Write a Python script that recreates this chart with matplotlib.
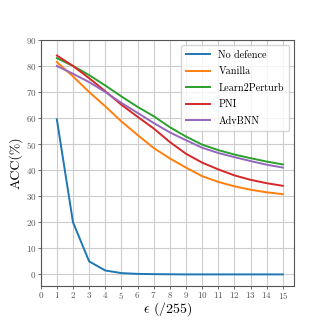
import numpy as np
import matplotlib
matplotlib.use("Agg")
import matplotlib.pyplot as plt

plt.rcParams['font.family'] = 'serif'
plt.rcParams['font.serif'] = ['cmr10']
plt.rcParams['mathtext.fontset'] = 'cm'
plt.rcParams['axes.formatter.use_mathtext'] = True

eps = np.arange(1, 16)

no_defence = [59.5, 20, 5, 1.5, 0.5, 0.2, 0.1, 0.05, 0, 0, 0, 0, 0, 0, 0]
vanilla = [81.5, 76, 70, 64.5, 58.7, 53.5, 48.5, 44.5, 41.0, 37.7, 35.5, 33.8, 32.5, 31.5, 30.8]
learn2perturb = [83, 80, 76.5, 72.5, 68.3, 64.3, 60.7, 56.5, 52.9, 49.8, 47.7, 46.0, 44.6, 43.3, 42.2]
pni = [84, 80, 75.3, 70.3, 65.1, 60.5, 56.0, 50.8, 46.3, 42.9, 40.3, 38.0, 36.3, 35.0, 34.0]
advbnn = [80, 77, 73.8, 70.0, 65.8, 62.0, 58.1, 54.5, 51.5, 48.6, 46.6, 45.0, 43.5, 42.1, 41.0]

series = [
    ("No defence", no_defence, "#1f77b4"),
    ("Vanilla", vanilla, "#ff7f0e"),
    ("Learn2Perturb", learn2perturb, "#2ca02c"),
    ("PNI", pni, "#d62728"),
    ("AdvBNN", advbnn, "#9467bd"),
]

fig = plt.figure(figsize=(3.27, 3.27), dpi=100)
ax = fig.add_axes([0.1245, 0.125, 0.775, 0.753])

for name, vals, col in series:
    ax.plot(eps, vals, color=col, lw=1.4, label=name)

ax.set_xlim(0, 15.7)
ax.set_ylim(-4.5, 90)
ax.set_xticks(np.arange(0, 16))
ax.set_yticks(np.arange(0, 91, 10))
ax.grid(True, color="#cccccc", lw=0.8)
ax.set_axisbelow(True)
for sp in ax.spines.values():
    sp.set_color("#555555")
ax.tick_params(labelsize=6.5, colors="#555555", length=2, width=0.6, pad=1)
ax.set_xlabel(r"$\epsilon$ (/255)", fontsize=10, labelpad=-1)
ax.set_ylabel("ACC(%)", fontsize=10, labelpad=2.5)

leg = ax.legend(loc="upper right", fontsize=7.3, frameon=True, fancybox=True,
                handlelength=2.4, handletextpad=0.8, borderpad=0.5,
                labelspacing=0.7)
leg.get_frame().set_edgecolor("#cccccc")

fig.savefig("out.png", dpi=100)
